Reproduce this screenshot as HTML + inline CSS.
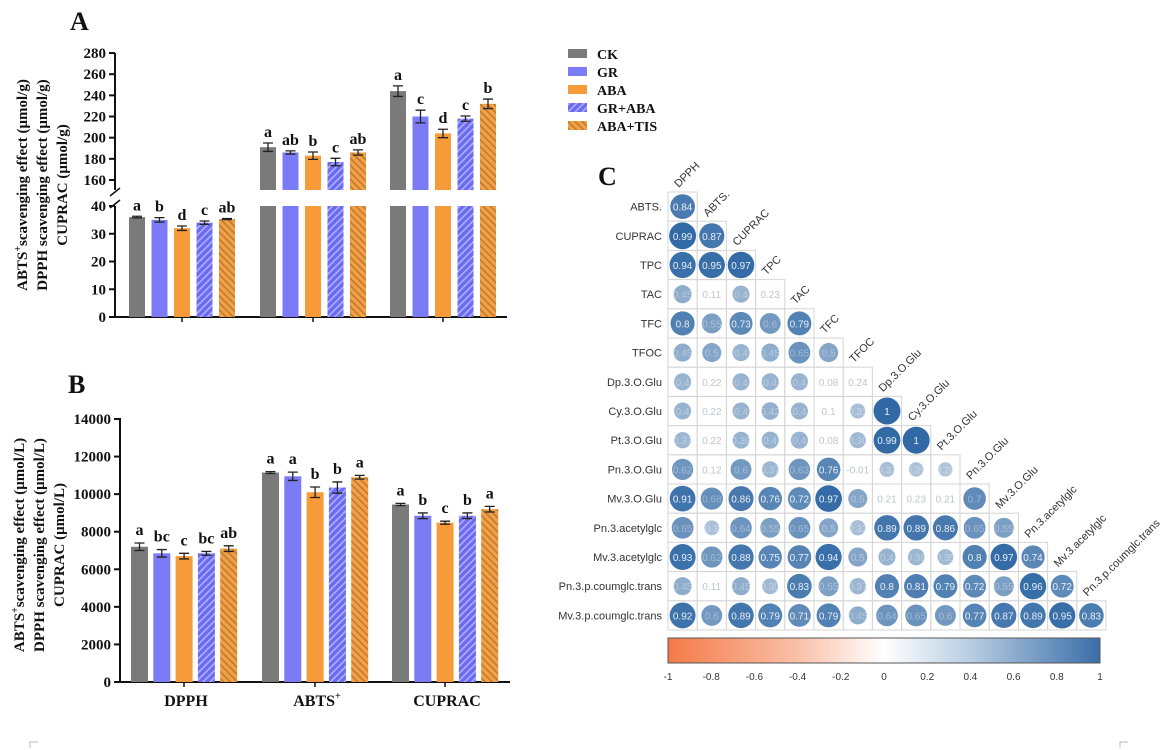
<!DOCTYPE html>
<html><head><meta charset="utf-8"><style>
body{margin:0;background:#fff;}
svg{display:block;font-family:"Liberation Serif",serif;}
</style></head><body>
<svg id="s" width="1163" height="750" xmlns="http://www.w3.org/2000/svg">
<defs>
<pattern id="hb" width="5" height="5" patternUnits="userSpaceOnUse" patternTransform="rotate(45)">
<rect width="5" height="5" fill="#6a6af2"/><rect width="1.6" height="5" fill="#b0b0ff"/></pattern>
<pattern id="ho" width="5" height="5" patternUnits="userSpaceOnUse" patternTransform="rotate(-45)">
<rect width="5" height="5" fill="#f2a045"/><rect width="1.6" height="5" fill="#c07a30"/></pattern>
</defs>
</svg>
<script>
const s=document.getElementById('s');let h='';
const fills=['#7a7a7a','#7b7bf5','#f79a3a','url(#hb)','url(#ho)'];
const T=(x,y,t,o)=>{o=o||{};return `<text x="${x}" y="${y}" font-size="${o.fs||15}" font-weight="${o.fw||'bold'}" text-anchor="${o.a||'middle'}" fill="${o.c||'#111'}" ${o.tr?'transform="'+o.tr+'"':''} ${o.f?'font-family="'+o.f+'"':''}>${t}</text>`;};
h+=T(70,30,'A',{fs:26,a:'start'});h+=T(68,393,'B',{fs:26,a:'start'});h+=T(598,185,'C',{fs:26,a:'start'});
const yl=v=>317-v*2.775, yu=v=>180-(v-160)*1.058;
h+=`<line x1="115" y1="206" x2="115" y2="318" stroke="#111" stroke-width="2"/><line x1="115" y1="53" x2="115" y2="190" stroke="#111" stroke-width="2"/>`;
h+=`<line x1="110" y1="196" x2="120" y2="188" stroke="#111" stroke-width="1.5"/><line x1="110" y1="208" x2="120" y2="200" stroke="#111" stroke-width="1.5"/>`;
h+=`<line x1="114" y1="317" x2="507" y2="317" stroke="#111" stroke-width="2"/>`;
for(let v=0;v<=40;v+=10){h+=`<line x1="109" y1="${yl(v)}" x2="115" y2="${yl(v)}" stroke="#111" stroke-width="2"/>`+T(106,yl(v)+5,v,{a:'end'});}
for(let v=160;v<=280;v+=20){h+=`<line x1="109" y1="${yu(v)}" x2="115" y2="${yu(v)}" stroke="#111" stroke-width="2"/>`+T(106,yu(v)+5,v,{a:'end'});}
const A=[[36,35,32,34,35.3],[191,186,183,177,186],[244,220,204,218,232]];
const AE=[[.3,.8,.8,.6,.2],[4,1.5,3.5,3.5,2.5],[5,6,4,2.5,4.5]];
const AL=[['a','b','d','c','ab'],['a','ab','b','c','ab'],['a','c','d','c','b']];
const gA=[129,260,390];
const yA=v=>v<=40?yl(v):yu(v);
for(let g=0;g<3;g++){h+=`<line x1="${gA[g]+53}" y1="317" x2="${gA[g]+53}" y2="322" stroke="#111" stroke-width="1.5"/>`;
 for(let i=0;i<5;i++){const x=gA[g]+i*22.5,w=16,v=A[g][i],e=AE[g][i];
  if(v<=40){h+=`<rect x="${x}" y="${yl(v)}" width="${w}" height="${317-yl(v)}" fill="${fills[i]}"/>`;}
  else{h+=`<rect x="${x}" y="206" width="${w}" height="111" fill="${fills[i]}"/><rect x="${x}" y="${yu(v)}" width="${w}" height="${190-yu(v)}" fill="${fills[i]}"/>`;}
  const c=x+w/2,y1=yA(v+e),y2=yA(v-e);
  h+=`<path d="M${c} ${y1}V${y2}M${c-5} ${y1}H${c+5}M${c-5} ${y2}H${c+5}" stroke="#222" stroke-width="1.3"/>`;
  h+=T(c,y1-6,AL[g][i],{fs:16});}}
const ylab=(cx,cy,unit)=>{let r='';[['ABTS<tspan font-size="10" dy="-6">+</tspan><tspan dy="6">scavenging effect (μmol/'+unit+')</tspan>',27],['DPPH scavenging effect (μmol/'+unit+')',47],['CUPRAC (μmol/'+unit+')',67]].forEach(([t,x])=>{r+=`<text x="0" y="0" font-size="15" font-weight="bold" text-anchor="middle" fill="#111" transform="translate(${x+cx},${cy}) rotate(-90)">${t}</text>`;});return r;};
h+=ylab(0,185,'g');
const ln=['CK','GR','ABA','GR+ABA','ABA+TIS'];
ln.forEach((t,i)=>{const y=49+i*18;h+=`<rect x="568" y="${y}" width="19" height="9" fill="${fills[i]}"/>`+T(597,y+10,t,{a:'start',fs:14});});
const yb=v=>682-v*0.018786;
h+=`<line x1="120" y1="418" x2="120" y2="683" stroke="#111" stroke-width="2"/><line x1="119" y1="682" x2="510" y2="682" stroke="#111" stroke-width="2"/>`;
for(let v=0;v<=14000;v+=2000){h+=`<line x1="114" y1="${yb(v)}" x2="120" y2="${yb(v)}" stroke="#111" stroke-width="2"/>`+T(111,yb(v)+5,v,{a:'end'});}
const B=[[7200,6850,6700,6850,7100],[11150,10950,10100,10350,10900],[9450,8850,8480,8850,9200]];
const BE=[[200,200,150,100,150],[50,220,280,300,100],[60,150,80,150,150]];
const BL=[['a','bc','c','bc','ab'],['a','a','b','b','a'],['a','b','c','b','a']];
const gB=[131,262,392],cats=['DPPH','ABTS<tspan font-size="10" dy="-7">+</tspan>','CUPRAC'];
for(let g=0;g<3;g++){h+=`<line x1="${gB[g]+53}" y1="682" x2="${gB[g]+53}" y2="687" stroke="#111" stroke-width="1.5"/>`;
 h+=T(gB[g]+55,706,cats[g],{fs:16});
 for(let i=0;i<5;i++){const x=gB[g]+i*22.3,w=17,v=B[g][i],e=BE[g][i];
  h+=`<rect x="${x}" y="${yb(v)}" width="${w}" height="${682-yb(v)}" fill="${fills[i]}"/>`;
  const c=x+w/2,y1=yb(v+e),y2=yb(v-e);
  h+=`<path d="M${c} ${y1}V${y2}M${c-5} ${y1}H${c+5}M${c-5} ${y2}H${c+5}" stroke="#222" stroke-width="1.3"/>`;
  h+=T(c,y1-8,BL[g][i],{fs:16});}}
h+=ylab(-3,545,'L');
const names=['DPPH','ABTS.','CUPRAC','TPC','TAC','TFC','TFOC','Dp.3.O.Glu','Cy.3.O.Glu','Pt.3.O.Glu','Pn.3.O.Glu','Mv.3.O.Glu','Pn.3.acetylglc','Mv.3.acetylglc','Pn.3.p.coumglc.trans','Mv.3.p.coumglc.trans'];
const M=[[0.84],[0.99,0.87],[0.94,0.95,0.97],[0.45,0.11,0.4,0.23],[0.8,0.55,0.73,0.6,0.79],[0.45,0.5,0.4,0.45,0.65,0.5],[0.4,0.22,0.4,0.4,0.4,0.08,0.24],[0.4,0.22,0.4,0.42,0.4,0.1,0.31,1],[0.37,0.22,0.39,0.4,0.4,0.08,0.36,0.99,1],[0.62,0.12,0.6,0.37,0.63,0.76,-0.01,0.31,0.29,0.28],[0.91,0.68,0.86,0.76,0.72,0.97,0.5,0.21,0.23,0.21,0.7],[0.65,0.3,0.64,0.55,0.65,0.5,0.32,0.89,0.89,0.86,0.65,0.55],[0.93,0.62,0.88,0.75,0.77,0.94,0.5,0.4,0.38,0.35,0.8,0.97,0.74],[0.45,0.11,0.45,0.35,0.83,0.55,0.37,0.8,0.81,0.79,0.72,0.55,0.96,0.72],[0.92,0.6,0.89,0.79,0.71,0.79,0.45,0.64,0.65,0.6,0.77,0.87,0.89,0.95,0.83]];
const X0=668,Y0=192,CS=29.2;
const col=v=>{const a=Math.abs(v);let c0=[247,247,247],c1=v>=0?[48,105,165]:[240,110,70];return `rgb(${c0.map((c,k)=>Math.round(c+(c1[k]-c)*Math.pow(a,0.8))).join(',')})`;};
const FS='font-family="Liberation Sans,sans-serif"';
M.forEach((row,r)=>{const y=Y0+r*CS;
 h+=`<text x="${X0-6}" y="${y+CS/2+4}" font-size="11" text-anchor="end" fill="#333" ${FS}>${names[r+1]}</text>`;
 row.forEach((v,c)=>{const x=X0+c*CS;
  h+=`<rect x="${x}" y="${y}" width="${CS}" height="${CS}" fill="none" stroke="#d6d6d6" stroke-width="1"/>`;
  const a=Math.abs(v);
  if(a>0.25){h+=`<circle cx="${x+CS/2}" cy="${y+CS/2}" r="${13.5*Math.sqrt(a)}" fill="${col(v)}"/>`;}
  const tc=a>0.7?'#e8eef5':(a>0.25?'rgba(255,255,255,0.35)':'#bcc6d0');
  h+=`<text x="${x+CS/2}" y="${y+CS/2+4}" font-size="10" text-anchor="middle" fill="${tc}" ${FS}>${v}</text>`;});
 const cx=X0+r*CS+CS/2-4,cy=y-4;
 h+=`<text x="0" y="0" font-size="11" fill="#333" ${FS} transform="translate(${cx},${cy}) rotate(-45)">${names[r]}</text>`;});
h+=`<defs><linearGradient id="cb"><stop offset="0" stop-color="#f47a48"/><stop offset="0.3" stop-color="#f9c0a8"/><stop offset="0.5" stop-color="#ffffff"/><stop offset="0.7" stop-color="#b8cde2"/><stop offset="1" stop-color="#3a6ea8"/></linearGradient></defs>`;
h+=`<rect x="668" y="638" width="432" height="25" fill="url(#cb)" stroke="#555" stroke-width="1"/>`;
for(let k=0;k<=10;k++){const v=-1+k*0.2;const x=668+k*43.2;h+=`<text x="${x}" y="680" font-size="10" text-anchor="middle" fill="#333" ${FS}>${Math.round(v*10)/10}</text>`;}
h+=`<path d="M30 748V742H38M1128 742H1120V748" stroke="#bbb" fill="none"/>`;
s.innerHTML+=h;
</script>
</body></html>
